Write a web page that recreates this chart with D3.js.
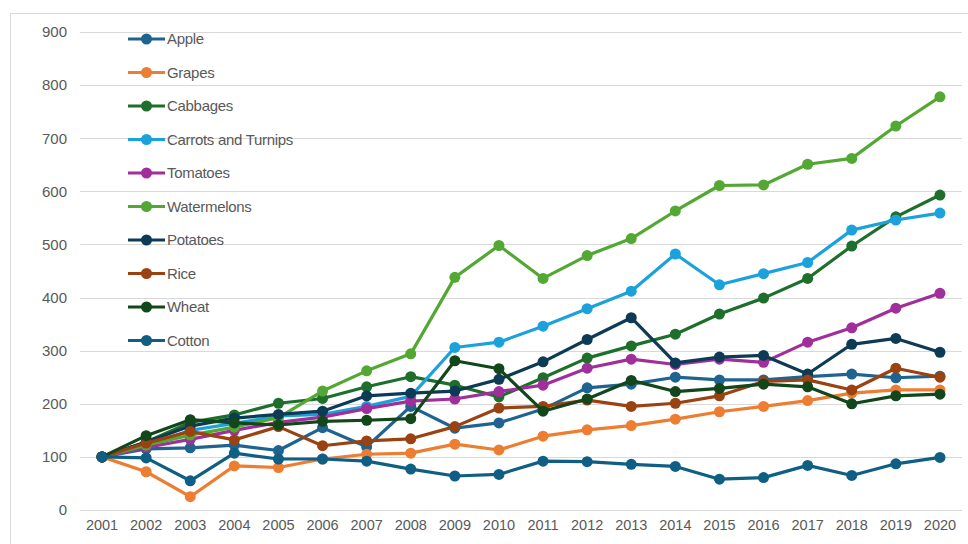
<!DOCTYPE html>
<html>
<head>
<meta charset="UTF-8">
<title>Crops index</title>
<style>
    body { margin: 0; background: #fff; }
    svg { display: block; }
    text { font-family: "Liberation Sans", Arial, sans-serif; fill: #595959; }
</style>
</head>
<body>
<svg></svg>
<script src="https://d3js.org/d3.v7.min.js"></script>
<script>
    let width = 968, height = 544

    // data
    let years = d3.range(2001, 2021).map(String)
    let yTicks = [0, 100, 200, 300, 400, 500, 600, 700, 800, 900]
    let seriesNames = ["Apple", "Grapes", "Cabbages", "Carrots and Turnips", "Tomatoes",
        "Watermelons", "Potatoes", "Rice", "Wheat", "Cotton"]
    let seriesColors = ["#1f6391", "#ed7d31", "#1e6f2b", "#1ba1db", "#a02f9b",
        "#52a832", "#0d3b56", "#9a4211", "#12461b", "#0e5f83"]

    let apple = [100, 115, 117, 122, 112, 155, 119, 195, 154, 164, 190, 230, 237, 250, 245, 245, 251, 256, 249, 252]
    let grapes = [100, 72, 25, 83, 80, 96, 105, 107, 124, 113, 139, 151, 159, 171, 185, 195, 206, 220, 226, 226]
    let cabbages = [100, 128, 165, 179, 201, 210, 232, 251, 235, 213, 249, 286, 309, 331, 369, 399, 436, 497, 552, 593]
    let carrots = [100, 120, 150, 163, 177, 180, 195, 214, 306, 316, 346, 379, 412, 482, 424, 445, 466, 527, 546, 559]
    let tomatoes = [100, 118, 133, 150, 165, 175, 191, 205, 209, 223, 235, 267, 284, 274, 284, 278, 316, 343, 380, 408]
    let watermelons = [100, 122, 141, 156, 174, 224, 262, 294, 438, 498, 436, 479, 511, 563, 611, 612, 651, 662, 723, 778]
    let potatoes = [100, 128, 158, 173, 180, 186, 215, 220, 224, 246, 279, 321, 362, 277, 288, 291, 256, 312, 323, 297]
    let rice = [100, 126, 148, 132, 157, 121, 130, 134, 157, 192, 195, 207, 195, 201, 215, 242, 245, 226, 267, 250]
    let wheat = [100, 140, 170, 164, 160, 167, 169, 172, 281, 266, 186, 209, 244, 223, 229, 237, 232, 200, 215, 218]
    let cotton = [100, 98, 55, 107, 96, 96, 92, 77, 64, 67, 92, 91, 86, 82, 58, 61, 84, 65, 87, 99]

    let allValues = [apple, grapes, cabbages, carrots, tomatoes, watermelons, potatoes, rice, wheat, cotton]
    let series = seriesNames.map((name, i) => ({ name: name, color: seriesColors[i], values: allValues[i] }))

    let svg = d3.select("svg")
        .attr("width", width)
        .attr("height", height)

    // chart frame
    svg.append("rect")
        .attr("x", 10.5).attr("y", 13.5)
        .attr("width", 1000).attr("height", 600)
        .attr("fill", "none")
        .attr("stroke", "#d9d9d9")

    let x = d3.scaleBand().domain(years).range([80, 962])
    let y = d3.scaleLinear().domain([0, 900]).range([510, 32])

    // grid lines
    svg.append("g")
        .selectAll("line")
        .data(yTicks)
        .enter()
        .append("line")
        .attr("x1", 80).attr("x2", 962)
        .attr("y1", d => Math.round(y(d)) + 0.5)
        .attr("y2", d => Math.round(y(d)) + 0.5)
        .attr("stroke", "#d9d9d9")
        .attr("stroke-width", 1)

    // y axis labels
    let yAxis = svg.append("g")
        .attr("transform", "translate(80,0)")
        .call(d3.axisLeft(y).tickValues(yTicks).tickSize(0).tickPadding(13))
    yAxis.select(".domain").remove()
    yAxis.selectAll("text")
        .style("font-size", "15px")
        .attr("fill", "#595959")

    // x axis labels
    let xAxis = svg.append("g")
        .attr("transform", "translate(0,510)")
        .call(d3.axisBottom(x).tickSize(0).tickPadding(10))
    xAxis.select(".domain").remove()
    xAxis.selectAll("text")
        .style("font-size", "14.5px")
        .attr("fill", "#595959")

    let line = d3.line()
        .x((d, i) => x(years[i]) + x.bandwidth() / 2)
        .y(d => y(d))

    let groups = svg.append("g")
        .selectAll("g")
        .data(series)
        .enter()
        .append("g")

    groups.append("path")
        .attr("d", d => line(d.values))
        .attr("fill", "none")
        .attr("stroke", d => d.color)
        .attr("stroke-width", 3.2)
        .attr("stroke-linejoin", "round")

    groups.selectAll("circle")
        .data(d => d.values.map((v, i) => ({ v: v, i: i, color: d.color })))
        .enter()
        .append("circle")
        .attr("cx", d => x(years[d.i]) + x.bandwidth() / 2)
        .attr("cy", d => y(d.v))
        .attr("r", 5.5)
        .attr("fill", d => d.color)

    // legend
    let legend = svg.append("g")
        .selectAll("g")
        .data(series)
        .enter()
        .append("g")
        .attr("transform", (d, i) => "translate(128," + (39 + i * 33.5) + ")")

    legend.append("line")
        .attr("x1", 0).attr("x2", 37)
        .attr("stroke", d => d.color)
        .attr("stroke-width", 3.2)
    legend.append("circle")
        .attr("cx", 18.5)
        .attr("r", 5.5)
        .attr("fill", d => d.color)
    legend.append("text")
        .attr("x", 39)
        .attr("dy", "0.35em")
        .style("font-size", "15px")
        .style("letter-spacing", "-0.3px")
        .text(d => d.name)
</script>
</body>
</html>
